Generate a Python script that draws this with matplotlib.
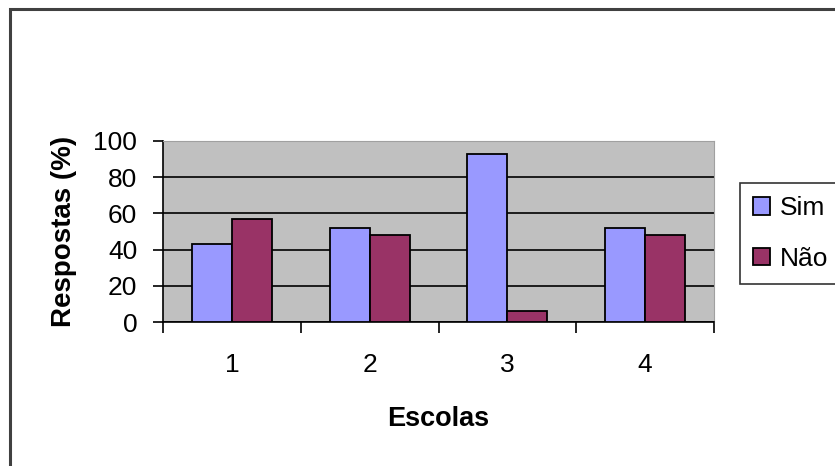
import matplotlib
matplotlib.use("Agg")
import matplotlib.pyplot as plt
import numpy as np
from matplotlib.patches import Rectangle

plt.rcParams['font.family'] = ['Liberation Sans', 'DejaVu Sans']

escolas = ["1", "2", "3", "4"]
sim = [43, 52, 93, 52]
nao = [57, 48, 6, 48]
y_ticks = [0, 20, 40, 60, 80, 100]

W, H = 835, 466
fig = plt.figure(figsize=(W / 100, H / 100), dpi=100)

# outer chart frame (runs off the right and bottom edges)
fig.patches.append(Rectangle((10 / W, -0.1), 1.2, (H - 9) / H + 0.1,
                             transform=fig.transFigure, fill=False,
                             edgecolor="#404040", linewidth=2.2, zorder=0))

ax = fig.add_axes([163 / W, (H - 322) / H, 551 / W, 181 / H])
ax.set_facecolor("#C0C0C0")

x = np.arange(len(escolas))
bw = 0.29
ax.bar(x - bw / 2, sim, bw, color="#9999FF", edgecolor="black", linewidth=1.3,
       label="Sim", zorder=3)
ax.bar(x + bw / 2, nao, bw, color="#993366", edgecolor="black", linewidth=1.3,
       label="Não", zorder=3)

ax.set_xlim(-0.5, len(escolas) - 0.5)
ax.set_ylim(0, 100)
ax.set_yticks(y_ticks)
ax.set_yticklabels([str(v) for v in y_ticks], fontsize=19)
ax.yaxis.grid(True, color="black", linewidth=1.2, zorder=1)
ax.set_axisbelow(True)

# category ticks between groups, labels centred under groups
ax.set_xticks(np.arange(-0.5, len(escolas), 1.0))
ax.set_xticklabels([])
ax.set_xticks(x, minor=True)
ax.set_xticklabels(escolas, minor=True, fontsize=19)
ax.tick_params(axis="x", which="minor", length=0, pad=22)
ax.tick_params(axis="x", which="major", length=8, width=1.2, direction="out")
ax.tick_params(axis="y", length=7.5, width=1.2, direction="out", pad=11)

for side in ["top", "right"]:
    ax.spines[side].set_color("#A0A0A0")
ax.spines["left"].set_linewidth(1.2)
ax.spines["bottom"].set_linewidth(1.2)

ax.set_ylabel("Respostas (%)", fontsize=20, fontweight="bold", labelpad=12)
ax.set_xlabel("Escolas", fontsize=19.5, fontweight="bold", labelpad=21)

leg = fig.legend(loc="upper left", bbox_to_anchor=(740 / W, 1 - 183 / H),
                 fontsize=19, frameon=True, fancybox=False, handlelength=0.65,
                 handleheight=0.65, handletextpad=0.35, borderpad=0.5,
                 labelspacing=1.0, borderaxespad=0)
leg.get_frame().set_edgecolor("black")
leg.get_frame().set_linewidth(1.2)

fig.savefig("out.png", dpi=100)
